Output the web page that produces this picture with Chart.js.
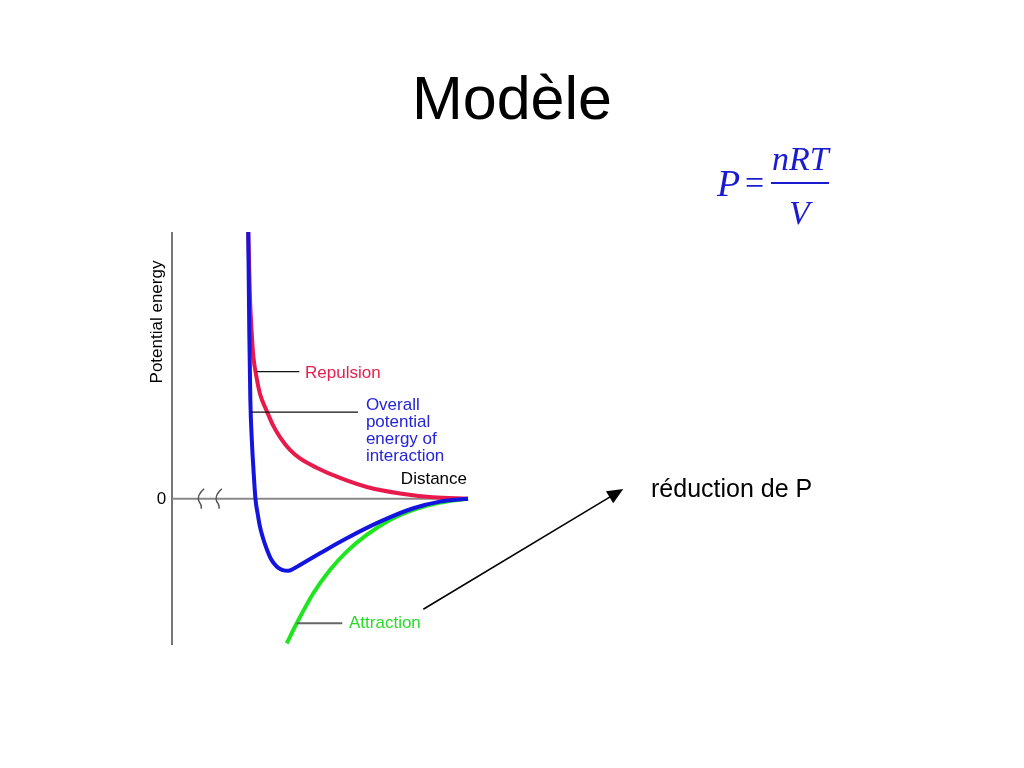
<!DOCTYPE html>
<html lang="fr">
<head>
<meta charset="utf-8">
<title>Modèle</title>
<script src="https://cdn.jsdelivr.net/npm/chart.js@4.4.1/dist/chart.umd.min.js"></script>
<style>
    html, body { margin: 0; padding: 0; background: #fff; }
    #slide { position: relative; width: 1024px; height: 768px; overflow: hidden; font-family: "Liberation Sans", Arial, sans-serif; }
    #chart-energie { position: absolute; left: 0; top: 0; }
    h1 { position: absolute; left: 0; top: 68px; width: 1024px; margin: 0; text-align: center; font-weight: normal; font-size: 61px; line-height: 1; color: #000; }
    .f { position: absolute; font-family: "Liberation Serif", "Times New Roman", serif; color: #1a1ad0; line-height: 1; }
    .f i { font-style: italic; }
    .barre { position: absolute; left: 771px; top: 182px; width: 58px; height: 1.5px; background: #1a1ad0; }
    .note { position: absolute; left: 651px; top: 476px; font-size: 25px; line-height: 1; color: #000; }
</style>
</head>
<body>
<div id="slide">
    <canvas id="chart-energie" width="1024" height="768"></canvas>
    <h1>Modèle</h1>
    <div class="f" style="left:717px; top:164px; font-size:38px;"><i>P</i></div>
    <div class="f" style="left:745px; top:166px; font-size:34px;">=</div>
    <div class="f" style="left:772px; top:142px; font-size:34px;"><i>nRT</i></div>
    <div class="barre"></div>
    <div class="f" style="left:789px; top:196px; font-size:34px;"><i>V</i></div>
    <div class="note">réduction de P</div>
</div>
<script>
// Courbes d'energie potentielle (unites arbitraires)
const repulsionX = [7.73, 7.91, 8.06, 8.24, 8.58, 8.92, 9.60, 10.27, 10.94, 11.96, 12.97, 14.70, 17.03, 19.76, 23.11, 26.45, 30];
const repulsionY = [27.0, 20.12, 17.09, 14.45, 12.23, 10.61, 8.89, 7.37, 6.25, 4.94, 4.08, 3.12, 2.11, 1.19, 0.53, 0.15, 0];

const totalX = [7.73, 7.83, 7.94, 8.09, 8.26, 8.46, 8.72, 8.92, 9.22, 9.60, 10.03, 10.61, 11.15, 11.76, 12.36, 12.97, 15.0, 17.71, 21.08, 24.46, 27.16, 30];
const totalY = [27.0, 17.09, 10.0, 5.95, 2.91, -0.02, -1.74, -2.85, -3.97, -5.08, -6.09, -6.85, -7.19, -7.29, -7.05, -6.70, -5.52, -4.0, -2.32, -0.96, -0.29, 0];

const attractionX = [11.63, 12.64, 14.32, 16.01, 17.71, 19.73, 22.09, 24.46, 26.83, 30];
const attractionY = [-14.63, -12.6, -9.56, -7.21, -5.35, -3.66, -2.15, -1.13, -0.46, 0];

const overallLines = ['Overall', 'potential', 'energy of', 'interaction'];

const toPoints = (xs, ys) => xs.map((x, i) => ({ x: x, y: ys[i] }));

const police = '17px "Liberation Sans", Arial, sans-serif';

// axes, ligne zero, etiquettes et fleche
const decorPlugin = {
    id: 'decor',
    beforeDatasetsDraw(chart) {
        const ctx = chart.ctx;
        const xs = chart.scales.x, ys = chart.scales.y;
        const a = chart.chartArea;
        const y0 = ys.getPixelForValue(0);
        ctx.save();
        ctx.strokeStyle = '#777';
        ctx.lineWidth = 2;
        // axe vertical
        ctx.beginPath();
        ctx.moveTo(a.left, a.top);
        ctx.lineTo(a.left, a.bottom);
        ctx.stroke();
        // ligne zero
        ctx.strokeStyle = '#888';
        ctx.beginPath();
        ctx.moveTo(a.left, y0);
        ctx.lineTo(a.right, y0);
        ctx.stroke();
        // coupures
        ctx.strokeStyle = '#555';
        ctx.lineWidth = 1.5;
        [2.85, 4.65].forEach(v => {
            const px = xs.getPixelForValue(v);
            ctx.beginPath();
            ctx.moveTo(px + 4, y0 - 10);
            ctx.quadraticCurveTo(px - 4, y0 - 3, px - 1, y0 + 3);
            ctx.quadraticCurveTo(px + 2, y0 + 7, px + 1, y0 + 10);
            ctx.stroke();
        });
        ctx.restore();
    },
    afterDatasetsDraw(chart) {
        const ctx = chart.ctx;
        const xs = chart.scales.x, ys = chart.scales.y;
        const X = v => xs.getPixelForValue(v);
        const Y = v => ys.getPixelForValue(v);
        ctx.save();
        ctx.font = police;

        // "0"
        ctx.fillStyle = '#000';
        ctx.textAlign = 'right';
        ctx.textBaseline = 'middle';
        ctx.fillText('0', X(-0.6), Y(0) + 1);

        // titre axe y
        ctx.save();
        ctx.translate(X(-1.0), Y(17.89));
        ctx.rotate(-Math.PI / 2);
        ctx.textAlign = 'center';
        ctx.textBaseline = 'alphabetic';
        ctx.fillText('Potential energy', 0, 0);
        ctx.restore();

        // traits de rappel
        ctx.lineWidth = 1.3;
        ctx.strokeStyle = '#111';
        ctx.beginPath();
        ctx.moveTo(X(8.58), Y(12.86)); ctx.lineTo(X(12.9), Y(12.86));
        ctx.moveTo(X(8.0), Y(8.76)); ctx.lineTo(X(18.85), Y(8.76));
        ctx.stroke();
        ctx.strokeStyle = '#666';
        ctx.lineWidth = 2;
        ctx.beginPath();
        ctx.moveTo(X(12.64), Y(-12.6)); ctx.lineTo(X(17.26), Y(-12.6));
        ctx.stroke();

        // etiquettes
        ctx.textAlign = 'left';
        ctx.textBaseline = 'alphabetic';
        ctx.fillStyle = '#e8204e';
        ctx.fillText('Repulsion', X(13.48), Y(12.2));
        ctx.fillStyle = '#2424d8';
        overallLines.forEach((t, i) => ctx.fillText(t, X(19.65), Y(8.99) + i * 17));
        ctx.fillStyle = '#28dc28';
        ctx.fillText('Attraction', X(17.94), Y(-13.1));
        ctx.fillStyle = '#000';
        ctx.textAlign = 'right';
        ctx.fillText('Distance', X(29.9), Y(1.5));

        // fleche vers "reduction de P"
        const x1 = X(25.47), y1 = Y(-11.18), x2 = X(45.74), y2 = Y(0.99);
        const ang = Math.atan2(y2 - y1, x2 - x1);
        const c = Math.cos(ang), s = Math.sin(ang);
        ctx.strokeStyle = '#000';
        ctx.fillStyle = '#000';
        ctx.lineWidth = 1.5;
        ctx.beginPath();
        ctx.moveTo(x1, y1);
        ctx.lineTo(x2 - 12 * c, y2 - 12 * s);
        ctx.stroke();
        ctx.beginPath();
        ctx.moveTo(x2, y2);
        ctx.lineTo(x2 - 16 * c + 7 * s, y2 - 16 * s - 7 * c);
        ctx.lineTo(x2 - 16 * c - 7 * s, y2 - 16 * s + 7 * c);
        ctx.closePath();
        ctx.fill();
        ctx.restore();
    },
};

const ligne = (label, data, color, order) => ({
    label: label,
    data: data,
    borderColor: color,
    borderWidth: 4,
    pointRadius: 0,
    fill: false,
    cubicInterpolationMode: 'monotone',
    clip: false,
    order: order,
});

new Chart(document.getElementById('chart-energie'), {
    type: 'line',
    data: {
        datasets: [
            ligne('Repulsion', toPoints(repulsionX, repulsionY), '#e8194b', 1),
            ligne('Overall potential energy of interaction', toPoints(totalX, totalY), '#1414e0', 0),
            ligne('Attraction', toPoints(attractionX, attractionY), '#1ee61e', 2),
        ],
    },
    options: {
        responsive: false,
        animation: false,
        layout: { padding: { left: 172, right: 556, top: 232, bottom: 123 } },
        plugins: { legend: { display: false }, tooltip: { enabled: false } },
        scales: {
            x: { type: 'linear', min: 0, max: 30, display: false },
            y: { min: -14.8, max: 27, display: false },
        },
    },
    plugins: [decorPlugin],
});
</script>
</body>
</html>
